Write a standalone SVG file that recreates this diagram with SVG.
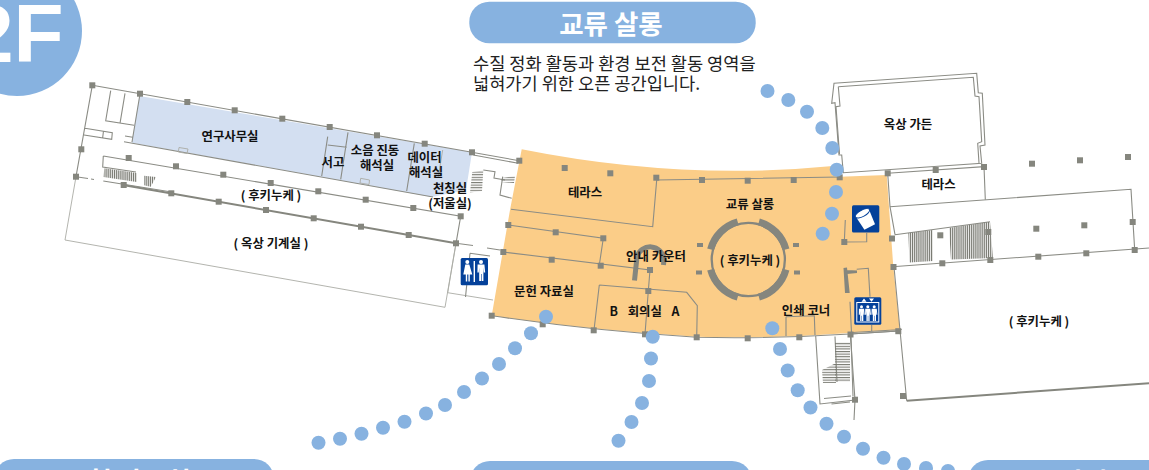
<svg xmlns="http://www.w3.org/2000/svg" width="1149" height="470" viewBox="0 0 1149 470">
<style>
text{font-family:"Noto Sans CJK KR","Noto Sans",sans-serif}
.l{font-size:12.4px;font-weight:700;fill:#111;text-anchor:middle}
.h{font-size:26.5px;font-weight:700;fill:#fff;text-anchor:middle}
.d{font-size:17.6px;fill:#222}
.p{fill:#87b2e0}
.w{fill:none;stroke:#8b8c85;stroke-width:1.1}
.n{fill:none;stroke:#aaaba5;stroke-width:.9}
.t{fill:none;stroke:#85867e;stroke-width:2}
.i{fill:#04419a}
.f{fill:#fff}
.r{fill:#85867e}
</style>
<defs>
<rect id="c" x="-3" y="-3" width="6" height="6" fill="#85867e"/>
<pattern id="hv" width="1.9" height="8" patternUnits="userSpaceOnUse"><rect width="1.1" height="8" fill="#777870"/></pattern>
<pattern id="hh" width="8" height="2.6" patternUnits="userSpaceOnUse"><rect width="8" height="1.1" fill="#777870"/></pattern>
<g id="man"><circle cx="0" cy="-9" r="2"/><path d="M-3.4-6.5h6.8l.8 8h-1.4l-.4-5v13.5h-1.8v-7h-.6v7h-1.8v-13.5l-.4 5h-1.4z"/></g>
<g id="woman"><circle cx="0" cy="-9" r="2"/><path d="M-2-6.5h4l3 10h-2.5v7h-1.4v-7h-1.2v7h-1.4v-7h-2.5z"/></g>
</defs>

<g id="floor">
<path d="M521.7 149.3Q680 181 833 166L840 176.7L886.7 175L893.3 266.7L900 330L850 333Q770 339 696.7 336.7Q593 331 491.7 315.7L510 210Z" fill="#fbcd88"/>
<path d="M139.5 96L472 152.3L466 190L432 197L131.7 142.7Z" fill="#d3dff1"/>
</g>

<g id="walls">
<path class="w" d="M92.3 85.3L472 152.3M92.3 85.3L76 176.7M110.7 90.7L105.7 120.7L134 125.3M125 93.3L120 123.3M85 128.3L112.3 132.7L111.7 139.3L84 135M103.5 131L102.7 137.5M125 136L132.7 137.3M124 141.7L433 197M140 94L132 142M348 132.3L340.7 179.3M414.3 143.3L406.7 191M327.7 136.7L321.7 176M327.7 145L346.7 147.3"/>
<path class="n" d="M442.7 150L438.3 176.7M179 147.5L188 149L187 153.5L178.3 152ZM360.7 178.3L369.5 180L369 184.5L360 183Z"/>
<path class="w" d="M103.3 156L460.7 216.3L456 243.3M103.3 156L102.7 167L136 172"/>
<path class="n" d="M76 176.7L65 240L445 307.3L456 243.3M456 243.3L447.7 292.7L493 300"/>
<path class="t" d="M123 185L456 243.3"/>
<path class="w" d="M76 176.7L88 178.5M91 179L94 179.5M103.3 181L170 191.7"/>
<path class="w" d="M456 243.3L473 245.5M487 248L500 250M470 253.3L490 256M470 253.3L465.5 297"/>

<path class="w" d="M471.7 152.3L519.3 160.7M473.3 155L518.3 163.3M483.3 170L495 171.7L494 178L505 180M502.7 176.7L500 195L511.7 198.3"/>

<path class="w" d="M511 209.3L652.7 226.7L656.7 180L840 177M508.3 225L603.3 238.3L599.3 265M503.3 252L650 270L648.3 291L645 334.3M599.3 285L594 330M599.3 285L686.7 292.3L697.3 305.7L696.7 337.3"/>
<path class="w" d="M786 316.7L814.3 315.7L815 335M786 316.7V336M845.3 220L844.3 242L866.7 241.7V233M856.7 269.3L868.3 268.3L870 296.7M850 301.7L851.5 333M871.7 325V331"/>
<path class="w" d="M492 315.7Q593 331 696.7 337.3Q770 339 850 334L898.5 331"/>
<path class="w" d="M887.7 173.3L984 166.7L985.3 199.3M887.7 173.3L890 206.7L895 234.7M890 206.7L1131 189.3L1134.7 250M895 234.7L990 221.7M895.7 266.5L1149 248M894 267L906.7 400.7M898.3 331L851 334M901.7 329.5L852.7 332.5"/>
<path class="t" d="M906.7 400.7L1149 383.3"/>
<path class="w" d="M834 83.3L976.7 73.3L978.3 92.7L982.3 93.3L985 145L980 146L981.7 163.3L843.3 172.7L841.7 155L839 155L835 102.7L831.7 103.3Z"/>
<path class="w" d="M838.3 86.7L973.3 77.3L975 96L979 96.7L981.7 141.7L977.7 143.3L979 163"/>
<path class="w" d="M838.3 86.7L840 106L836 106.7L839.5 154"/>
<path class="w" d="M815.7 336L820 404L855 400L850.3 334.7M855 400L854 420M816 404L810 405M824 398.5L851 396M831.5 404L850 402"/>
<path class="w" d="M835 336.5L837 382M851 335.5L853 396"/>
</g>

<g id="stairs">
<path d="M104.3 168.3L136.7 173L136.7 182L103.5 177Z" fill="url(#hv)"/>
<path d="M144 175.7L156 177L150.7 186.7L144 185.3Z" fill="url(#hv)"/>
<path d="M472.3 172L483.3 170.5L482 191L470 192.5Z" fill="url(#hh)"/>
<path d="M502 178L515 176L514 183L501 182Z" fill="url(#hh)"/>
<path d="M908.3 233L932.7 230L933 261L909.5 262.5Z" fill="url(#hv)"/>
<path d="M949 228L990 221.7L993 258L951 259.5Z" fill="url(#hv)"/>
<path d="M835 342H850V382H835Z" fill="url(#hh)"/>
<path d="M822 370L836 363V383H823Z" fill="url(#hh)"/>
</g>

<g id="rotunda" fill="none">
<circle cx="748.3" cy="259.5" r="36.6" stroke="#85867e" stroke-width="2.3"/>
<g stroke="#85867e" stroke-width="7">
<path d="M786 249.4A39 39 0 0 0 758.9 221.9"/>
<path d="M737.7 221.9A39 39 0 0 0 710.6 249.4"/>
<path d="M710.6 269.6A39 39 0 0 0 737.7 297.1"/>
<path d="M758.9 297.1A39 39 0 0 0 786 269.6"/>
</g>
<g fill="#85867e">
<rect x="697" y="243" width="6" height="4"/><rect x="696" y="270.5" width="6" height="4"/>
<rect x="793" y="243" width="6" height="4"/><rect x="794" y="270.5" width="6" height="4"/>
</g>
<path d="M634.5 280.5L637 257A13.8 13.8 0 0 1 664 259L663.5 265" stroke="#85867e" stroke-width="5"/>
<path d="M843.5 268L847 267.5L849.7 293H845ZM847 270L857 270.5V273L847 274Z" fill="#85867e"/>
</g>

<g id="columns">
<use href="#c" x="92.3" y="85.3"/><use href="#c" x="140" y="93.7"/><use href="#c" x="187.3" y="102"/><use href="#c" x="234.7" y="110.3"/><use href="#c" x="282.3" y="118.7"/><use href="#c" x="329.7" y="127"/><use href="#c" x="377" y="135.3"/><use href="#c" x="424.7" y="143.7"/><use href="#c" x="472" y="152.3"/><use href="#c" x="81.3" y="149.3"/><use href="#c" x="76" y="176.7"/>
<use href="#c" x="128.7" y="158"/><use href="#c" x="176" y="166.3"/><use href="#c" x="223.3" y="174.7"/><use href="#c" x="270.7" y="183"/><use href="#c" x="318.3" y="191.3"/><use href="#c" x="365.7" y="199.7"/><use href="#c" x="413.3" y="208"/><use href="#c" x="460.7" y="216.3"/>
<use href="#c" x="123.7" y="185"/><use href="#c" x="171.3" y="193.3"/><use href="#c" x="218.7" y="201.7"/><use href="#c" x="266" y="210"/><use href="#c" x="313.7" y="218.3"/><use href="#c" x="361" y="226.7"/><use href="#c" x="408.7" y="235"/><use href="#c" x="456" y="243.3"/>
<use href="#c" x="564.7" y="168"/><use href="#c" x="610.3" y="173.3"/><use href="#c" x="656.3" y="177.7"/><use href="#c" x="702" y="180"/><use href="#c" x="747.7" y="180.7"/><use href="#c" x="793.7" y="180"/><use href="#c" x="839.7" y="177.3"/><use href="#c" x="887.7" y="173.3"/><use href="#c" x="519.3" y="160.7"/>
<use href="#c" x="508.3" y="225"/><use href="#c" x="555.7" y="232.3"/><use href="#c" x="603.3" y="238.3"/><use href="#c" x="503.3" y="252"/><use href="#c" x="551.7" y="259.7"/><use href="#c" x="600.7" y="265.7"/><use href="#c" x="650" y="270"/><use href="#c" x="648.3" y="291"/>
<use href="#c" x="491.7" y="315.7"/><use href="#c" x="542.7" y="324.3"/><use href="#c" x="593.7" y="330.3"/><use href="#c" x="645" y="334.3"/><use href="#c" x="696.7" y="337.3"/><use href="#c" x="747.7" y="338.3"/><use href="#c" x="799.3" y="337.3"/><use href="#c" x="850.5" y="334.5"/><use href="#c" x="898.3" y="331.2"/>
<use href="#c" x="844.3" y="242"/><use href="#c" x="892" y="238.5"/><use href="#c" x="893.5" y="267"/>
<use href="#c" x="935.7" y="170"/><use href="#c" x="984" y="167"/><use href="#c" x="1032" y="163.7"/><use href="#c" x="1080" y="160.3"/><use href="#c" x="1128" y="157"/>
<use href="#c" x="1036.3" y="228.7"/><use href="#c" x="1084.3" y="225.3"/><use href="#c" x="1132.7" y="222"/><use href="#c" x="940.3" y="235.3"/><use href="#c" x="988.3" y="232"/>
<use href="#c" x="942.3" y="263.3"/><use href="#c" x="990.3" y="260"/><use href="#c" x="1038.3" y="256.7"/><use href="#c" x="1086.3" y="253.3"/><use href="#c" x="1134.7" y="250"/>
<use href="#c" x="903" y="396"/><use href="#c" x="855" y="399.7"/>
</g>

<g id="connectors" class="p">
<circle cx="767.5" cy="91" r="7"/><circle cx="788.3" cy="100" r="7"/><circle cx="807" cy="111.7" r="7"/><circle cx="822.3" cy="128" r="7"/><circle cx="832.3" cy="148" r="7"/><circle cx="836.7" cy="169.7" r="7"/><circle cx="836" cy="192" r="7"/><circle cx="832" cy="213.7" r="7"/><circle cx="822.7" cy="233.7" r="7"/>
<circle cx="546" cy="316.7" r="7"/><circle cx="531" cy="333.3" r="7"/><circle cx="515" cy="348.3" r="7"/><circle cx="499" cy="364" r="7"/><circle cx="482" cy="378.5" r="7"/><circle cx="464" cy="392" r="7"/><circle cx="445" cy="405" r="7"/><circle cx="426" cy="413.5" r="7"/><circle cx="404.5" cy="421.7" r="7"/><circle cx="383" cy="427.7" r="7"/><circle cx="361.5" cy="433.7" r="7"/><circle cx="340" cy="438.7" r="7"/><circle cx="318.5" cy="442.7" r="7"/>
<circle cx="652.7" cy="336.7" r="7"/><circle cx="651" cy="358.5" r="7"/><circle cx="649" cy="381" r="7"/><circle cx="642" cy="403" r="7"/><circle cx="631.5" cy="422" r="7"/><circle cx="618.5" cy="440.7" r="7"/>
<circle cx="772.3" cy="328.3" r="7"/><circle cx="780" cy="349" r="7"/><circle cx="787.7" cy="370.5" r="7"/><circle cx="797.7" cy="390.3" r="7"/><circle cx="810.5" cy="407.5" r="7"/><circle cx="826.5" cy="423.7" r="7"/><circle cx="844" cy="436.7" r="7"/><circle cx="863" cy="448.7" r="7"/><circle cx="883.5" cy="457.7" r="7"/><circle cx="904" cy="464" r="7"/><circle cx="926" cy="468" r="7"/><circle cx="948" cy="471" r="7"/>
</g>

<g id="icon-restroom">
<rect class="i" x="460.7" y="258" width="27.3" height="27.3" rx="1.5"/>
<g class="f"><rect x="473.6" y="261" width="1.4" height="21"/><use href="#woman" transform="translate(467.3 271)"/><use href="#man" transform="translate(481 271)"/></g>
</g>
<g id="icon-cafe">
<rect class="i" x="852" y="205.3" width="27.3" height="27.3" rx="1.5"/>
<g transform="rotate(-28 865.6 219)"><path class="f" d="M858 212.5L873 212.5L871.5 228H859.5Z"/><ellipse cx="865.5" cy="212.5" rx="8" ry="3.2" fill="#fff" stroke="#04419a" stroke-width=".9"/></g>
</g>
<g id="icon-elevator">
<rect class="i" x="854.3" y="297.3" width="27" height="27.4" rx="1.5"/>
<rect x="856.8" y="302.5" width="22" height="19.5" fill="none" stroke="#fff" stroke-width="1"/>
<path class="f" d="M864 298.5L866.5 301.8H861.5ZM871.5 301.8L869 298.5H874Z"/>
<g class="f"><use href="#man" transform="translate(861.5 313.5) scale(.75)"/><use href="#man" transform="translate(867.8 313.5) scale(.75)"/><use href="#man" transform="translate(874.2 313.5) scale(.75)"/></g>
</g>

<g id="labels">
<g id="n-research"><text class="l" x="230" y="141">연구사무실</text></g>
<g id="n-storage"><text class="l" x="333" y="166.5">서고</text></g>
<g id="n-sound"><text class="l" x="375" y="154.5">소음 진동</text><text class="l" x="377" y="170">해석실</text></g>
<g id="n-data"><text class="l" x="424.5" y="162">데이터</text><text class="l" x="426" y="177">해석실</text></g>
<g id="n-balance"><text class="l" x="450" y="193">천칭실</text><text class="l" x="450" y="208">(저울실)</text></g>
<g id="n-void1"><text class="l" x="271" y="200">( 후키누케 )</text></g>
<g id="n-machine"><text class="l" x="271" y="247.5">( 옥상 기계실 )</text></g>
<g id="n-terrace1"><text class="l" x="585" y="196.5">테라스</text></g>
<g id="n-salon"><text class="l" x="750" y="208.5">교류 살롱</text></g>
<g id="n-void2"><text class="l" x="750" y="264.5">( 후키누케 )</text></g>
<g id="n-info"><text class="l" x="656" y="260.5">안내 카운터</text></g>
<g id="n-archive"><text class="l" x="544" y="295.5">문헌 자료실</text></g>
<g id="n-meeting"><text class="l" x="644.5" y="315.5" xml:space="preserve" style="word-spacing:2px">B  회의실  A</text></g>
<g id="n-print"><text class="l" x="806" y="314.5">인쇄 코너</text></g>
<g id="n-garden"><text class="l" x="908" y="128.5">옥상 가든</text></g>
<g id="n-terrace2"><text class="l" x="938.5" y="188.5">테라스</text></g>
<g id="n-void3"><text class="l" x="1039" y="325.5">( 후키누케 )</text></g>
</g>

<g id="floor-badge">
<circle class="p" cx="17" cy="31" r="65"/>
<text x="-32" y="62" font-size="82" font-weight="700" fill="#fff" style="font-family:'Liberation Sans',sans-serif">2F</text>
</g>

<g id="title">
<rect class="p" x="469.3" y="1.7" width="286.4" height="41.6" rx="20"/>
<text class="h" x="611" y="34">교류 살롱</text>
<text class="d" x="473" y="70">수질 정화 활동과 환경 보전 활동 영역을</text>
<text class="d" x="473" y="90">넓혀가기 위한 오픈 공간입니다.</text>
</g>

<g id="pills">
<rect class="p" x="-6" y="459" width="280" height="60" rx="20"/>
<text class="h" x="127" y="491">문헌 자료실</text>
<rect class="p" x="470" y="461" width="282" height="60" rx="20"/>
<text class="h" x="611" y="493">회의실</text>
<rect class="p" x="968" y="460" width="240" height="60" rx="20"/>
<text class="h" x="1110" y="492">인쇄 코너</text>
</g>
</svg>
